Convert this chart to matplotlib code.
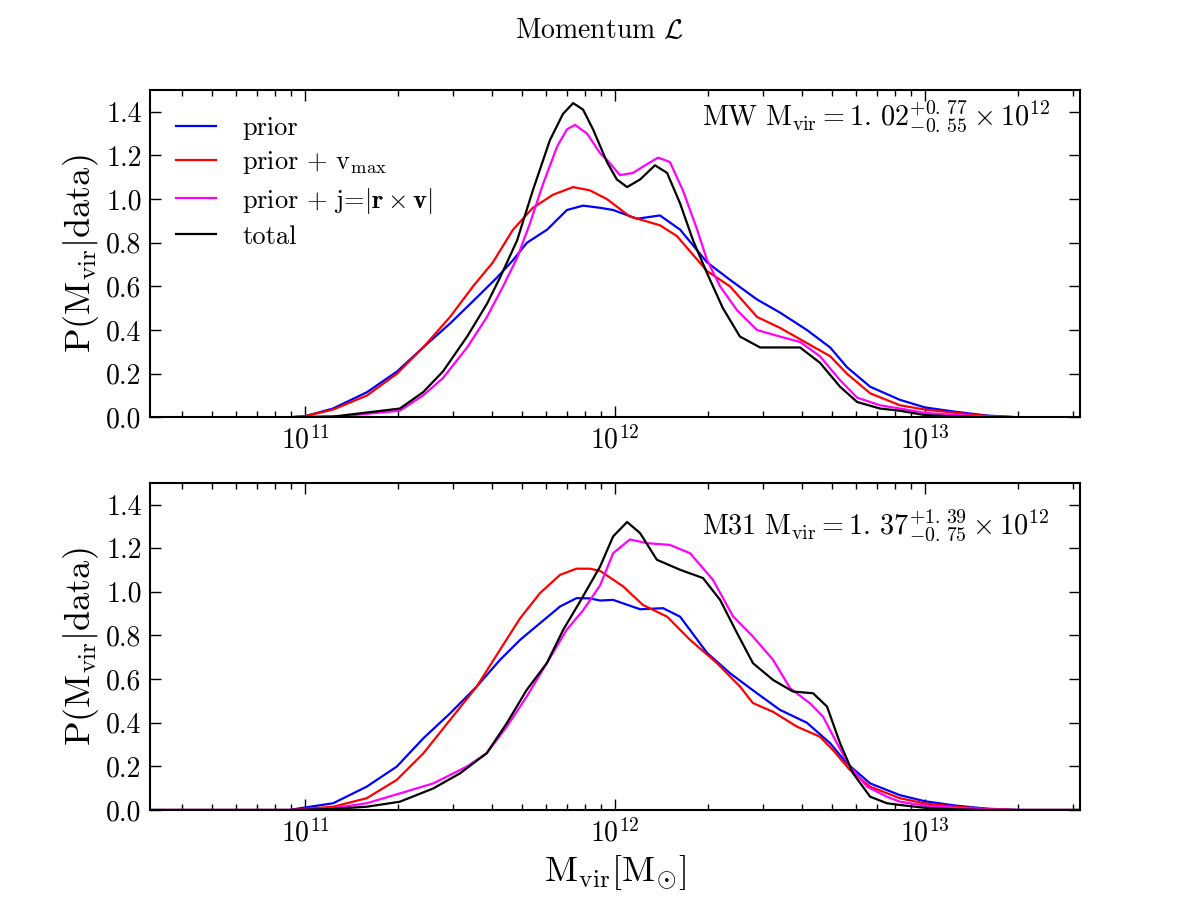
import numpy as np
import matplotlib
matplotlib.use("Agg")
import matplotlib.pyplot as plt

plt.rcParams['font.family'] = 'cmr10'
plt.rcParams['mathtext.fontset'] = 'cm'
plt.rcParams['axes.formatter.use_mathtext'] = True

# -------------------------------------------------------------------------
# Data: log10(M_vir) and P(M_vir|data)
# -------------------------------------------------------------------------
# Milky Way (top panel)
mw_prior_logm = [10.5, 10.95, 11.0, 11.09, 11.2, 11.297, 11.381, 11.468, 11.555, 11.619, 11.671,
                 11.716, 11.781, 11.845, 11.897, 11.952, 11.994, 12.071, 12.145, 12.21, 12.297,
                 12.371, 12.458, 12.532, 12.619, 12.694, 12.748, 12.823, 12.919, 13.0, 13.1, 13.2,
                 13.3, 13.5]
mw_prior = [0, 0, 0.005, 0.04, 0.115, 0.21, 0.32, 0.43, 0.55, 0.64, 0.72,
            0.80, 0.86, 0.95, 0.97, 0.96, 0.95, 0.91, 0.925, 0.86, 0.71,
            0.63, 0.54, 0.48, 0.40, 0.32, 0.23, 0.14, 0.08, 0.045, 0.025, 0.008,
            0, 0]

mw_vmax_logm = [10.5, 10.95, 11.0, 11.09, 11.2, 11.297, 11.381, 11.468, 11.542, 11.606, 11.671,
                11.735, 11.8, 11.865, 11.919, 11.974, 12.048, 12.145, 12.2, 12.297, 12.371,
                12.458, 12.532, 12.619, 12.694, 12.748, 12.823, 12.919, 13.0, 13.1, 13.2, 13.3, 13.5]
mw_vmax = [0, 0, 0.005, 0.035, 0.10, 0.20, 0.32, 0.46, 0.60, 0.71, 0.86,
           0.96, 1.02, 1.055, 1.04, 1.00, 0.92, 0.88, 0.83, 0.67, 0.60,
           0.46, 0.41, 0.34, 0.28, 0.20, 0.11, 0.055, 0.035, 0.02, 0.006, 0, 0]

mw_j_logm = [10.5, 10.95, 11.12, 11.306, 11.381, 11.445, 11.523, 11.587, 11.639, 11.684, 11.726,
             11.768, 11.813, 11.845, 11.871, 11.91, 11.952, 11.974, 12.016, 12.058, 12.103,
             12.139, 12.177, 12.219, 12.265, 12.297, 12.339, 12.394, 12.458, 12.532, 12.597,
             12.661, 12.726, 12.781, 12.855, 12.919, 13.0, 13.1, 13.2, 13.3, 13.5]
mw_j = [0, 0, 0.005, 0.03, 0.10, 0.18, 0.32, 0.46, 0.60, 0.73, 0.89,
        1.07, 1.24, 1.32, 1.34, 1.30, 1.21, 1.18, 1.11, 1.12, 1.16,
        1.19, 1.17, 1.04, 0.86, 0.72, 0.60, 0.49, 0.40, 0.37, 0.345,
        0.28, 0.17, 0.09, 0.055, 0.04, 0.02, 0.01, 0.003, 0, 0]

mw_total_logm = [10.5, 10.95, 11.09, 11.306, 11.381, 11.445, 11.523, 11.587, 11.629, 11.684, 11.735,
                 11.79, 11.832, 11.865, 11.897, 11.929, 11.974, 12.006, 12.039, 12.081, 12.129,
                 12.168, 12.21, 12.252, 12.297, 12.348, 12.403, 12.468, 12.532, 12.597, 12.661,
                 12.726, 12.781, 12.855, 12.919, 13.0, 13.1, 13.2, 13.5]
mw_total = [0, 0, 0.003, 0.04, 0.115, 0.21, 0.37, 0.52, 0.64, 0.81, 1.04,
            1.27, 1.39, 1.44, 1.41, 1.32, 1.17, 1.09, 1.055, 1.09, 1.155,
            1.12, 0.98, 0.81, 0.66, 0.50, 0.37, 0.32, 0.32, 0.32, 0.25,
            0.14, 0.07, 0.04, 0.03, 0.01, 0.003, 0, 0]

# M31 (bottom panel)
m31_prior_logm = [10.5, 10.95, 10.984, 11.091, 11.199, 11.296, 11.382, 11.468, 11.554, 11.629, 11.694,
                  11.758, 11.823, 11.876, 11.919, 11.952, 11.994, 12.081, 12.155, 12.21, 12.297,
                  12.371, 12.458, 12.532, 12.619, 12.694, 12.748, 12.823, 12.919, 13.0, 13.1,
                  13.2, 13.3, 13.5]
m31_prior = [0, 0, 0.008, 0.031, 0.107, 0.199, 0.329, 0.443, 0.566, 0.688, 0.78,
             0.856, 0.933, 0.971, 0.97, 0.96, 0.963, 0.92, 0.925, 0.886, 0.72,
             0.627, 0.535, 0.459, 0.40, 0.306, 0.214, 0.122, 0.068, 0.04, 0.02,
             0.006, 0, 0]

m31_vmax_logm = [10.5, 10.95, 11.091, 11.199, 11.296, 11.382, 11.468, 11.554, 11.629, 11.694, 11.758,
                 11.823, 11.876, 11.919, 11.952, 12.026, 12.09, 12.168, 12.242, 12.329, 12.403,
                 12.445, 12.51, 12.587, 12.661, 12.703, 12.758, 12.823, 12.919, 13.0, 13.1,
                 13.2, 13.3, 13.5]
m31_vmax = [0, 0, 0.015, 0.054, 0.138, 0.26, 0.413, 0.566, 0.734, 0.879, 0.994,
            1.078, 1.106, 1.106, 1.096, 1.025, 0.94, 0.886, 0.78, 0.673, 0.566,
            0.49, 0.45, 0.382, 0.336, 0.275, 0.183, 0.107, 0.054, 0.03, 0.015,
            0.005, 0, 0]

m31_j_logm = [10.5, 10.95, 11.091, 11.199, 11.306, 11.414, 11.522, 11.586, 11.651, 11.715, 11.78,
              11.844, 11.898, 11.952, 11.994, 12.048, 12.103, 12.177, 12.242, 12.316, 12.381,
              12.445, 12.51, 12.565, 12.629, 12.671, 12.716, 12.758, 12.813, 12.877, 12.919,
              13.0, 13.1, 13.2, 13.3, 13.5]
m31_j = [0, 0, 0.008, 0.031, 0.076, 0.122, 0.199, 0.26, 0.382, 0.52, 0.673,
         0.826, 0.917, 1.03, 1.177, 1.24, 1.223, 1.215, 1.177, 1.055, 0.887,
         0.795, 0.688, 0.558, 0.489, 0.428, 0.306, 0.199, 0.107, 0.061, 0.038,
         0.02, 0.01, 0.003, 0, 0]

m31_total_logm = [10.5, 10.95, 11.091, 11.199, 11.306, 11.414, 11.5, 11.586, 11.651, 11.715, 11.78,
                  11.833, 11.887, 11.952, 11.994, 12.039, 12.081, 12.135, 12.21, 12.284, 12.339,
                  12.394, 12.445, 12.51, 12.574, 12.639, 12.684, 12.726, 12.768, 12.823, 12.877,
                  12.919, 13.0, 13.1, 13.2, 13.5]
m31_total = [0, 0, 0.005, 0.015, 0.038, 0.099, 0.168, 0.26, 0.398, 0.55, 0.673,
             0.826, 0.955, 1.116, 1.254, 1.32, 1.269, 1.147, 1.101, 1.063, 0.963,
             0.81, 0.673, 0.596, 0.543, 0.535, 0.474, 0.306, 0.168, 0.061, 0.031,
             0.023, 0.01, 0.003, 0, 0]

labels = ['prior', r'prior + $\mathrm{v_{max}}$',
          r'prior + j=$|\mathbf{r}\times\mathbf{v}|$', 'total']
colors = ['blue', 'red', 'magenta', 'black']

mw_text = r'$\mathrm{MW\ M_{vir}=1.\,02^{+0.\,77}_{-0.\,55}\times 10^{12}}$'
m31_text = r'$\mathrm{M31\ M_{vir}=1.\,37^{+1.\,39}_{-0.\,75}\times 10^{12}}$'

# -------------------------------------------------------------------------
# Figure
# -------------------------------------------------------------------------
fig, axes = plt.subplots(2, 1, figsize=(12, 9), dpi=100)
fig.subplots_adjust(left=0.125, right=0.9, bottom=0.1, top=0.9, hspace=0.2)

panels = [
    ([(mw_prior_logm, mw_prior), (mw_vmax_logm, mw_vmax),
      (mw_j_logm, mw_j), (mw_total_logm, mw_total)], mw_text, 0.89),
    ([(m31_prior_logm, m31_prior), (m31_vmax_logm, m31_vmax),
      (m31_j_logm, m31_j), (m31_total_logm, m31_total)], m31_text, 0.84),
]

for ax, (curves, txt, ty) in zip(axes, panels):
    for (lm, p), c, lab in zip(curves, colors, labels):
        ax.plot(10 ** np.array(lm), p, color=c, lw=1.6, label=lab)
    ax.set_xscale('log')
    ax.set_xlim(10 ** 10.5, 10 ** 13.5)
    ax.set_ylim(0, 1.5)
    ax.set_yticks(np.arange(0, 1.41, 0.2))
    ax.yaxis.set_major_formatter(matplotlib.ticker.FormatStrFormatter('%.1f'))
    ax.tick_params(which='both', direction='in', top=True, right=True, labelsize=20, pad=6)
    ax.tick_params(which='major', length=8, width=1)
    ax.tick_params(which='minor', length=4, width=1)
    for s in ax.spines.values():
        s.set_linewidth(1.5)
    ax.set_ylabel(r'$\mathrm{P(M_{vir}|data)}$', fontsize=26, labelpad=4)
    ax.text(0.594, ty, txt, transform=ax.transAxes, ha='left', va='baseline', fontsize=20.3)

axes[0].legend(loc='upper left', frameon=False, fontsize=19, handlelength=1.5,
               handletextpad=1.0, borderaxespad=0.6, labelspacing=0.35)
axes[1].set_xlabel(r'$\mathrm{M_{vir}[M_{\odot}]}$', fontsize=26)
fig.suptitle(r'Momentum $\mathcal{L}$', fontsize=20, y=0.98)

fig.savefig('out.png', dpi=100)
